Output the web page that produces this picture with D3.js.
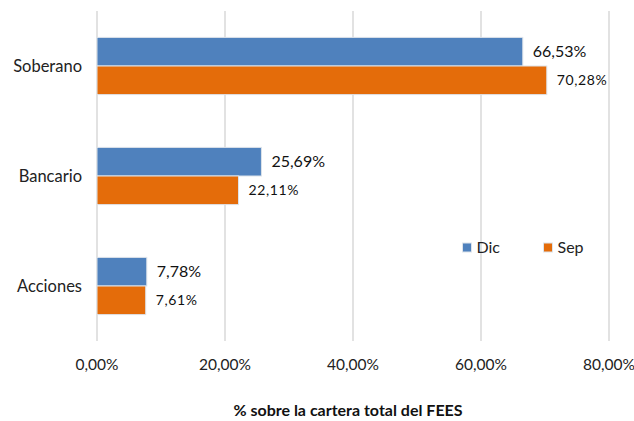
<html>
<head>
<meta charset="utf-8">
<script src="https://d3js.org/d3.v7.min.js"></script>
<style>
body { margin: 0; background: white; font-family: Lato, "Open Sans", sans-serif; }
</style>
</head>
<body>
<script>
// data
var categories = ["Soberano", "Bancario", "Acciones"];
var series = ["Dic", "Sep"];
var dicValues = [66.53, 25.69, 7.78];
var sepValues = [70.28, 22.11, 7.61];
var xTicks = [0, 20, 40, 60, 80];
var axisTitle = "% sobre la cartera total del FEES";

var colors = { Dic: "#4f81bd", Sep: "#e46c0a" };

var width = 634, height = 421;
var plotLeft = 97, plotRight = 609, plotTop = 11, plotBottom = 341;

var svg = d3.select("body").append("svg")
  .attr("width", width)
  .attr("height", height);

var x = d3.scaleLinear().domain([0, 80]).range([plotLeft, plotRight]);
var y = d3.scaleBand().domain(categories).range([plotTop, plotBottom]).paddingInner(0.48).paddingOuter(0.24);
var ySub = d3.scaleBand().domain(series).range([0, y.bandwidth()]);

var fmt = function(v) { return v.toFixed(2).replace(".", ",") + "%"; };

// gridlines
svg.append("g").selectAll("line")
  .data(xTicks)
  .enter().append("line")
  .attr("x1", function(d) { return x(d); })
  .attr("x2", function(d) { return x(d); })
  .attr("y1", plotTop)
  .attr("y2", plotBottom)
  .attr("stroke", "#d9d9d9")
  .attr("stroke-width", 1.5);

// tick labels
svg.append("g").selectAll("text")
  .data(xTicks)
  .enter().append("text")
  .attr("x", function(d) { return x(d); })
  .attr("y", 370)
  .attr("text-anchor", "middle")
  .attr("font-size", 15.5)
  .attr("fill", "#222")
  .text(function(d) { return fmt(d); });

// category labels
svg.append("g").selectAll("text")
  .data(categories)
  .enter().append("text")
  .attr("x", 82)
  .attr("y", function(d) { return y(d) + y.bandwidth() / 2; })
  .attr("dy", "0.35em")
  .attr("text-anchor", "end")
  .attr("font-size", 16.5)
  .attr("fill", "#222")
  .text(function(d) { return d; });

var rows = [];
categories.forEach(function(c, i) {
  rows.push({ cat: c, s: "Dic", v: dicValues[i] });
  rows.push({ cat: c, s: "Sep", v: sepValues[i] });
});

var bars = svg.append("g");
bars.selectAll("rect")
  .data(rows)
  .enter().append("rect")
  .attr("x", x(0))
  .attr("y", function(d) { return y(d.cat) + ySub(d.s); })
  .attr("width", function(d) { return x(d.v) - x(0); })
  .attr("height", ySub.bandwidth())
  .attr("fill", function(d) { return colors[d.s]; })
  .attr("stroke", "#dde3ea")
  .attr("stroke-width", 1);

// value labels
bars.selectAll("text")
  .data(rows)
  .enter().append("text")
  .attr("x", function(d) { return x(d.v) + 10; })
  .attr("y", function(d) { return y(d.cat) + ySub(d.s) + ySub.bandwidth() / 2; })
  .attr("dy", "0.35em")
  .attr("font-size", function(d) { return d.s == "Dic" ? 16 : 14; })
  .attr("letter-spacing", function(d) { return d.s == "Dic" ? 0 : 0.6; })
  .attr("fill", "#111")
  .text(function(d) { return fmt(d.v); });

// legend
var legendX = [462.5, 543.5];
var legend = svg.append("g").selectAll("g")
  .data(series)
  .enter().append("g")
  .attr("transform", function(d, i) { return "translate(" + legendX[i] + ",243)"; });
legend.append("rect")
  .attr("width", 9).attr("height", 9)
  .attr("fill", function(d) { return colors[d]; })
  .attr("stroke", "#dde3ea");
legend.append("text")
  .attr("x", 14)
  .attr("y", 4.5)
  .attr("dy", "0.35em")
  .attr("font-size", 16)
  .attr("fill", "#222")
  .text(function(d) { return d; });

// axis title
svg.append("text")
  .attr("x", 348)
  .attr("y", 416)
  .attr("text-anchor", "middle")
  .attr("font-size", 16)
  .attr("font-weight", "bold")
  .attr("fill", "#111")
  .text(axisTitle);
</script>
</body>
</html>
